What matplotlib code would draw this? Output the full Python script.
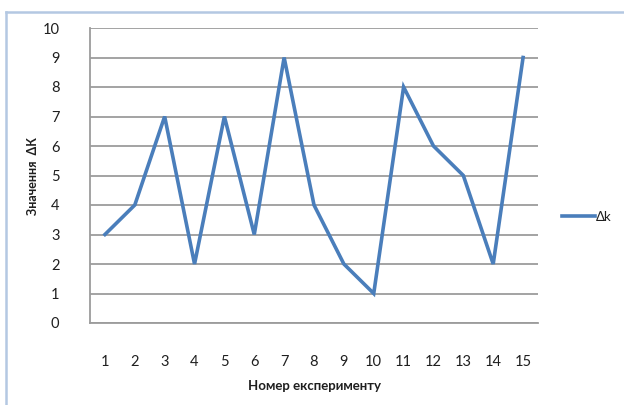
import matplotlib
matplotlib.use("Agg")
import matplotlib.pyplot as plt
from matplotlib.lines import Line2D

experiments = list(range(1, 16))
delta_k = [3, 4, 7, 2, 7, 3, 9, 4, 2, 1, 8, 6, 5, 2, 9]
y_ticks = list(range(0, 11))
series_name = "Δk"
x_label = "Номер експерименту"
y_label = "Значення  ΔК"

plt.rcParams['font.family'] = ['Lato', 'DejaVu Sans']

W, H = 624, 405
fig = plt.figure(figsize=(W / 100, H / 100), dpi=100)
fig.patch.set_facecolor('white')

# outer chart frame (left and top edges visible)
fig.add_artist(Line2D([6 / W, 6 / W], [0, 1 - 12 / H], transform=fig.transFigure,
                      color='#b4c8e2', lw=1.8))
fig.add_artist(Line2D([6 / W, 1], [1 - 12 / H, 1 - 12 / H], transform=fig.transFigure,
                      color='#b4c8e2', lw=1.8))

left, right, top, bottom = 90, 538, 28, 323
ax = fig.add_axes([left / W, 1 - bottom / H, (right - left) / W, (bottom - top) / H])
ax.plot(experiments, delta_k, color='#4a7ebb', lw=2.6, label=series_name,
        solid_joinstyle='miter', zorder=3)

ax.set_xlim(0.5, 15.5)
ax.set_ylim(0, 10)
ax.set_yticks(y_ticks)
ax.set_xticks(experiments)
ax.set_xticklabels([str(e) for e in experiments])
ax.tick_params(axis='both', length=0, labelsize=10.5, labelcolor='#1f1f1f')
ax.tick_params(axis='x', pad=23)
ax.tick_params(axis='y', pad=22)
ax.yaxis.grid(True, color='#9c9c9c', lw=1.3)
ax.set_axisbelow(True)
for s in ['top', 'right']:
    ax.spines[s].set_visible(False)
ax.spines['left'].set_color('#9c9c9c')
ax.spines['left'].set_linewidth(1.3)
ax.spines['bottom'].set_color('#9c9c9c')
ax.spines['bottom'].set_linewidth(1.3)

fig.text(33 / W, 1 - 176 / H, y_label, rotation=90, ha='center', va='center',
         fontsize=9, fontweight='bold', color='#1f1f1f')
fig.text(314 / W, 1 - 386 / H, x_label, ha='center', va='center',
         fontsize=9.5, fontweight='bold', color='#1f1f1f')

leg = ax.legend(loc='center left', bbox_to_anchor=(562 / W, 1 - 217 / H),
                bbox_transform=fig.transFigure, frameon=False, fontsize=9.5,
                handlelength=2.5, handletextpad=0.1, borderpad=0, borderaxespad=0)
for t in leg.get_texts():
    t.set_color('#1f1f1f')

fig.savefig('out.png', dpi=100)
